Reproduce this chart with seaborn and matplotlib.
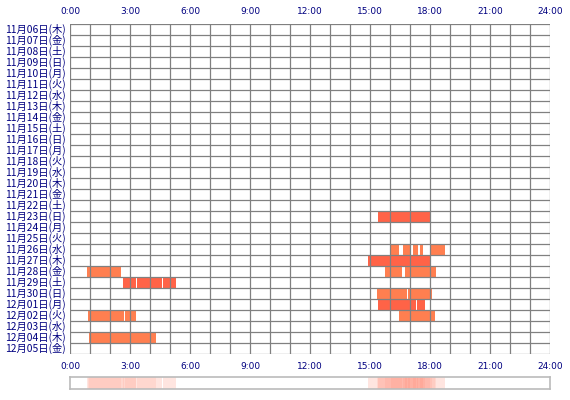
import numpy as np
import pandas as pd
import matplotlib
matplotlib.use("Agg")
import matplotlib.pyplot as plt
import seaborn as sns
from matplotlib.colors import ListedColormap, LinearSegmentedColormap, PowerNorm

# rows of the chart, one per day
days = ["11月06日(木)", "11月07日(金)", "11月08日(土)", "11月09日(日)", "11月10日(月)",
        "11月11日(火)", "11月12日(水)", "11月13日(木)", "11月14日(金)", "11月15日(土)",
        "11月16日(日)", "11月17日(月)", "11月18日(火)", "11月19日(水)", "11月20日(木)",
        "11月21日(金)", "11月22日(土)", "11月23日(日)", "11月24日(月)", "11月25日(火)",
        "11月26日(水)", "11月27日(木)", "11月28日(金)", "11月29日(土)", "11月30日(日)",
        "12月01日(月)", "12月02日(火)", "12月03日(水)", "12月04日(木)", "12月05日(金)"]

# activity segments (day, start, end, kind)
seg_day = ["11月23日(日)",
           "11月26日(水)", "11月26日(水)", "11月26日(水)", "11月26日(水)", "11月26日(水)",
           "11月27日(木)",
           "11月28日(金)", "11月28日(金)", "11月28日(金)",
           "11月29日(土)", "11月29日(土)", "11月29日(土)",
           "11月30日(日)", "11月30日(日)",
           "12月01日(月)", "12月01日(月)",
           "12月02日(火)", "12月02日(火)", "12月02日(火)",
           "12月04日(木)"]
seg_start = ["15:25",
             "16:03", "16:38", "17:08", "17:30", "18:00",
             "14:55",
             "0:51", "15:45", "16:45",
             "2:39", "3:20", "4:39",
             "15:20", "16:55",
             "15:24", "17:21",
             "0:54", "2:45", "16:27",
             "0:58"]
seg_end = ["18:00",
           "16:27", "16:59", "17:23", "17:40", "18:45",
           "18:00",
           "2:33", "16:35", "18:18",
           "3:17", "4:36", "5:17",
           "16:52", "18:05",
           "17:17", "17:45",
           "2:41", "3:17", "18:15",
           "4:17"]
seg_kind = [2,
            1, 1, 1, 1, 1,
            2,
            1, 1, 1,
            2, 2, 2,
            1, 1,
            2, 2,
            1, 1, 1,
            1]

hour_ticks = [0, 3, 6, 9, 12, 15, 18, 21, 24]
hour_labels = ["0:00", "3:00", "6:00", "9:00", "12:00", "15:00", "18:00", "21:00", "24:00"]


def to_min(s):
    h, m = s.split(":")
    return int(h) * 60 + int(m)


segs = pd.DataFrame({"day": seg_day, "start": [to_min(s) for s in seg_start],
                     "end": [to_min(s) for s in seg_end], "kind": seg_kind})

grid = np.zeros((len(days), 24 * 60))
for _, r in segs.iterrows():
    grid[days.index(r["day"]), r["start"]:r["end"]] = r["kind"]
grid_df = pd.DataFrame(grid, index=days)

# how many days were active at each minute
count = (grid > 0).sum(axis=0)[None, :]

sns.set_style("white")
plt.rcParams["font.family"] = ["Noto Sans CJK JP", "DejaVu Sans"]

navy = "#000080"
line_gray = "#808080"

fig = plt.figure(figsize=(5.7, 4.0), dpi=100)
ax = fig.add_axes([70 / 570, 46 / 400, 480 / 570, 330 / 400])

cmap = ListedColormap(["#ffffff", "#ff7f50", "#ff6347"])
sns.heatmap(grid_df, ax=ax, cmap=cmap, vmin=-0.5, vmax=2.5, cbar=False,
            xticklabels=False, yticklabels=True, rasterized=True)

for h in range(25):
    ax.axvline(h * 60, color=line_gray, lw=0.9)
for i in range(len(days) + 1):
    ax.axhline(i, color=line_gray, lw=0.9)

ax.set_xticks([h * 60 for h in hour_ticks])
ax.set_xticklabels(hour_labels)
ax.tick_params(axis="x", top=True, labeltop=True, bottom=True, labelbottom=True,
               length=0, pad=6, labelsize=6.5, colors=navy)
ax.tick_params(axis="y", length=0, pad=3, labelsize=7.4, colors=navy)
ax.set_yticks(np.arange(len(days)) + 0.5)
ax.set_yticklabels(days, rotation=0)
ax.set_xlabel("")
ax.set_ylabel("")
for lab in ax.get_xticklabels():
    lab.set_family(["DejaVu Sans"])

# summary strip under the chart
ax2 = fig.add_axes([70 / 570, 11.5 / 400, 480 / 570, 12 / 400])
strip_cmap = LinearSegmentedColormap.from_list("strip", ["#ffffff", "#ff6347"])
sns.heatmap(count, ax=ax2, cmap=strip_cmap, norm=PowerNorm(gamma=0.6, vmin=0, vmax=19),
            cbar=False, xticklabels=False, yticklabels=False, rasterized=True)
for sp in ax2.spines.values():
    sp.set_visible(True)
    sp.set_color("#bbbbbb")
    sp.set_linewidth(1.2)

fig.savefig("out.png", dpi=100)
